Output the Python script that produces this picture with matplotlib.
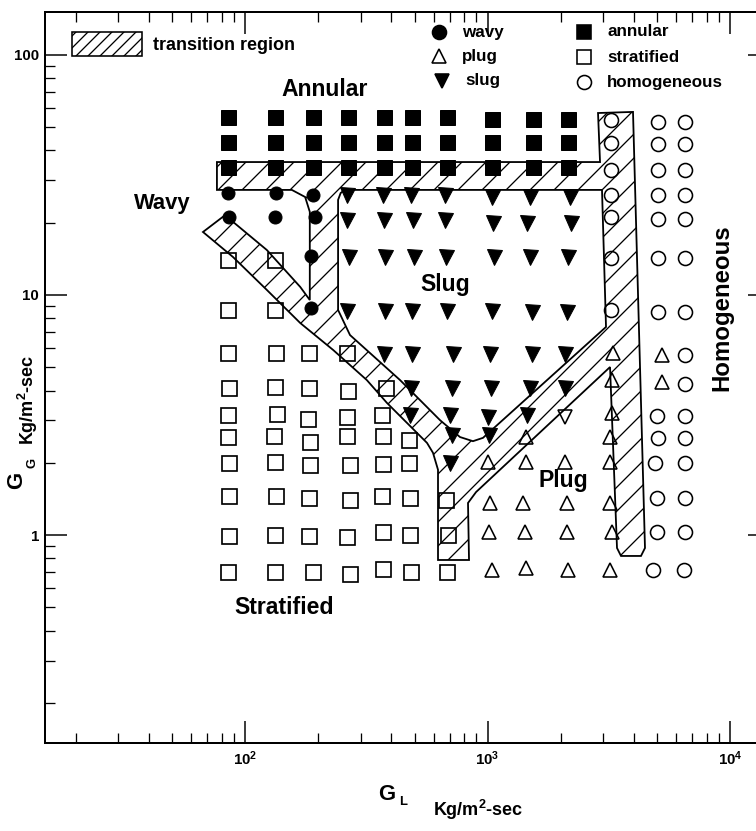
import numpy as np
import matplotlib
matplotlib.use('Agg')
from matplotlib import pyplot as plt
from matplotlib.path import Path
from matplotlib.patches import PathPatch, Rectangle
from matplotlib.ticker import FuncFormatter, NullFormatter

# flow regime observations, G_L / G_G in Kg/m2-sec
annular_gl = [85, 133, 191, 266, 374, 488, 681, 1044, 1540, 2148,
              85, 133, 191, 266, 374, 488, 681, 1044, 1540, 2148,
              85, 133, 191, 266, 374, 488, 681, 1044, 1540, 2148]
annular_gg = [55, 55, 55, 55, 55, 55, 55, 54, 54, 54,
              43.4, 43.4, 43.4, 43.4, 43.4, 43.4, 43.4, 43.4, 43.4, 43.4,
              34.1, 34.1, 34.1, 34.1, 34.1, 34.1, 34.1, 34.1, 34.1, 34.1]

wavy_gl = [85, 134, 191, 86, 133, 194, 187, 187]
wavy_gg = [26.6, 26.6, 26.1, 21.1, 21.1, 21.1, 14.5, 8.8]

slug_gl = [263, 371, 484, 668, 1044, 1497, 2189,
           263, 374, 493, 668, 1054, 1455, 2210,
           268, 378, 498, 675, 1064, 1497, 2148,
           263, 378, 488, 681, 1044, 1526, 2127,
           374, 488, 721, 1024, 1526, 2087,
           484, 714, 1034, 1497, 2087,
           479, 700, 1005, 1455,
           714, 1014,
           700]
slug_gg = [26, 26, 26, 26, 25.6, 25.6, 25.6,
           20.5, 20.5, 20.5, 20.5, 20, 20, 20,
           14.4, 14.4, 14.4, 14.4, 14.4, 14.4, 14.4,
           8.6, 8.6, 8.6, 8.6, 8.6, 8.5, 8.5,
           5.7, 5.7, 5.7, 5.7, 5.7, 5.7,
           4.1, 4.1, 4.1, 4.1, 4.1,
           3.15, 3.15, 3.1, 3.15,
           2.6, 2.6,
           2.0]

plug_gl = [3292, 3262, 3262, 1442, 3201,
           1005, 1442, 2087, 3201,
           1024, 1401, 2127, 3201,
           1014, 1428, 2127, 3262,
           1044, 1442, 2148, 3201,
           5244, 5244]
plug_gg = [5.73, 4.42, 3.22, 2.56, 2.56,
           2.01, 2.01, 2.01, 2.01,
           1.36, 1.36, 1.36, 1.36,
           1.03, 1.03, 1.03, 1.03,
           0.715, 0.73, 0.715, 0.715,
           5.62, 4.35]
plug_down_gl = [2087]
plug_down_gg = [3.1]

strat_gl = [85, 133,
            85, 133,
            85, 134, 184, 263,
            86, 133, 184, 266, 381,
            85, 136, 182, 263, 367,
            85, 132, 185, 263, 371, 475,
            86, 133, 185, 271, 371, 475,
            86, 134, 184, 271, 367, 479, 674,
            86, 133, 184, 263, 371, 479, 687,
            85, 133, 191, 271, 371, 484, 681]
strat_gg = [14.0, 14.0,
            8.66, 8.66,
            5.73, 5.73, 5.73, 5.73,
            4.1, 4.14, 4.1, 4.0, 4.1,
            3.16, 3.2, 3.05, 3.1, 3.16,
            2.56, 2.58, 2.45, 2.58, 2.58, 2.5,
            2.0, 2.02, 1.95, 1.95, 1.97, 2.0,
            1.45, 1.45, 1.43, 1.4, 1.45, 1.43, 1.4,
            0.99, 1.0, 0.99, 0.98, 1.03, 1.0, 1.0,
            0.70, 0.70, 0.70, 0.69, 0.72, 0.70, 0.70]

homog_gl = [3231, 3231, 3231, 3231, 3231, 3231, 3231,
            5048, 5048, 5048, 5048, 5048, 5048, 5048,
            5000, 5048, 4906, 5000, 5000, 4814,
            6525, 6525, 6525, 6525, 6525, 6525, 6525,
            6525, 6525, 6525, 6525, 6525, 6525, 6525, 6463]
homog_gg = [53.6, 43.0, 33.2, 26.1, 21.1, 14.3, 8.66,
            52.6, 42.6, 33.2, 26.1, 20.7, 14.3, 8.5,
            3.13, 2.54, 2.0, 1.43, 1.03, 0.715,
            52.6, 42.6, 33.2, 26.1, 20.7, 14.3, 8.5,
            5.62, 4.26, 3.13, 2.54, 2.0, 1.43, 1.03, 0.715]

# transition region: outer outline and the enclosed slug region
trans_outer_gl = [76.6, 2911, 2856, 3981, 4461, 4295, 3552, 3420, 3201, 897,
                  831, 839, 625, 625, 596, 563, 385, 318, 231, 169,
                  123, 89.2, 67.1, 82.7, 123, 169, 185, 185, 177, 156, 76.6]
trans_outer_gg = [35.8, 35.8, 57.3, 57.9, 0.883, 0.818, 0.818, 0.883, 5.01, 1.51,
                  1.36, 0.787, 0.787, 1.87, 2.20, 2.42, 3.55, 4.42, 5.90, 7.64,
                  10.5, 14.4, 18.3, 21.5, 15.4, 10.8, 9.53, 22.2, 25.6, 27.4, 27.4]
trans_hole_gl = [258, 2966, 3081, 958, 871, 770, 637, 436, 360, 271, 242, 242, 248]
trans_hole_gg = [27.4, 27.4, 7.36, 2.54, 2.46, 2.56, 3.01, 4.42, 5.26, 6.81, 8.66, 24.9, 26.6]

plt.rcParams['font.family'] = ['Liberation Sans', 'DejaVu Sans']
plt.rcParams['font.weight'] = 'bold'
plt.rcParams['mathtext.fontset'] = 'custom'
plt.rcParams['mathtext.rm'] = 'Liberation Sans:bold'
plt.rcParams['mathtext.it'] = 'Liberation Sans:bold'
plt.rcParams['mathtext.bf'] = 'Liberation Sans:bold'
plt.rcParams['hatch.linewidth'] = 1.3

W, H = 756, 831
fig = plt.figure(figsize=(W / 72, H / 72), dpi=72)
# right spine sits just past the picture edge, as in the scan
ax = fig.add_axes([45 / W, 88 / H, 725 / W, 731 / H])
ax.set_xscale('log')
ax.set_yscale('log')
ax.set_xlim(14.97, 14620)
ax.set_ylim(0.136, 151)


def fp(x, y):
    # pixel position -> figure fraction
    return x / W, 1 - y / H


# hatched transition region (slug region cut out)
outer = list(zip(trans_outer_gl, trans_outer_gg))
hole = list(zip(trans_hole_gl, trans_hole_gg))[::-1]
verts = outer + [outer[0]] + hole + [hole[0]]
codes = ([Path.MOVETO] + [Path.LINETO] * (len(outer) - 1) + [Path.CLOSEPOLY]
         + [Path.MOVETO] + [Path.LINETO] * (len(hole) - 1) + [Path.CLOSEPOLY])
ax.add_patch(PathPatch(Path(verts, codes), facecolor='none', edgecolor='black',
                       lw=1.8, hatch='/', zorder=1))

# data points
ax.plot(annular_gl, annular_gg, 's', ms=15, color='black', ls='none', zorder=3)
ax.plot(wavy_gl, wavy_gg, 'o', ms=13, color='black', ls='none', zorder=3)
ax.plot(slug_gl, slug_gg, 'v', ms=15, color='black', ls='none', zorder=3)
ax.plot(plug_gl, plug_gg, '^', ms=14, mfc='none', mec='black', mew=1.6, ls='none', zorder=3)
ax.plot(plug_down_gl, plug_down_gg, 'v', ms=14, mfc='none', mec='black', mew=1.6, ls='none', zorder=3)
ax.plot(strat_gl, strat_gg, 's', ms=15, mfc='none', mec='black', mew=1.7, ls='none', zorder=3)
ax.plot(homog_gl, homog_gg, 'o', ms=14, mfc='none', mec='black', mew=1.6, ls='none', zorder=3)

# axes styling
for s in ax.spines.values():
    s.set_linewidth(2)
ax.yaxis.set_major_formatter(FuncFormatter(lambda v, p: f'{v:g}'))
ax.yaxis.set_minor_formatter(NullFormatter())
ax.xaxis.set_minor_formatter(NullFormatter())
ax.tick_params(which='both', direction='in', top=True, right=True, labelsize=15)
ax.tick_params(which='major', length=22, width=1.5, pad=6)
ax.tick_params(which='minor', length=10, width=1.3)

# legend
sw = Rectangle(fp(72, 56), 70 / W, 24 / H, transform=fig.transFigure, facecolor='none',
               edgecolor='black', lw=1.6, hatch='//')
fig.patches.append(sw)
fig.text(*fp(153, 45), 'transition region', fontsize=18, va='center')
leg = [('o', 'black', 'wavy', 439, 32), ('^', 'none', 'plug', 439, 56),
       ('v', 'black', 'slug', 442, 81), ('s', 'black', 'annular', 584, 32),
       ('s', 'none', 'stratified', 584, 57), ('o', 'none', 'homogeneous', 584, 82)]
for m, fc, lab, x, y in leg:
    fig.lines.append(plt.Line2D([x / W], [1 - y / H], marker=m, ms=14, mfc=fc, mec='black',
                                mew=1.6, ls='none', transform=fig.transFigure))
    fig.text(*fp(x + 23, y), lab, fontsize=17, va='center')

# region names
fig.text(*fp(325, 90), 'Annular', fontsize=23, ha='center', va='center')
fig.text(*fp(162, 203), 'Wavy', fontsize=22, ha='center', va='center')
fig.text(*fp(445, 285), 'Slug', fontsize=23, ha='center', va='center')
fig.text(*fp(563, 481), 'Plug', fontsize=23, ha='center', va='center')
fig.text(*fp(284, 608), 'Stratified', fontsize=23, ha='center', va='center')
fig.text(*fp(722, 308), 'Homogeneous', fontsize=24, ha='center', va='center', rotation=90)

# axis labels
fig.text(*fp(387, 795), 'G', fontsize=22, ha='center', va='center')
fig.text(*fp(403, 802), 'L', fontsize=13, ha='center', va='center')
fig.text(*fp(478, 810), 'Kg/m$^2$-sec', fontsize=18, ha='center', va='center')
fig.text(*fp(17, 480), 'G', fontsize=22, ha='center', va='center', rotation=90)
fig.text(*fp(33, 463), 'G', fontsize=13, ha='center', va='center', rotation=90)
fig.text(*fp(28, 400), 'Kg/m$^2$-sec', fontsize=18, ha='center', va='center', rotation=90)

fig.savefig('out.png', dpi=72)
